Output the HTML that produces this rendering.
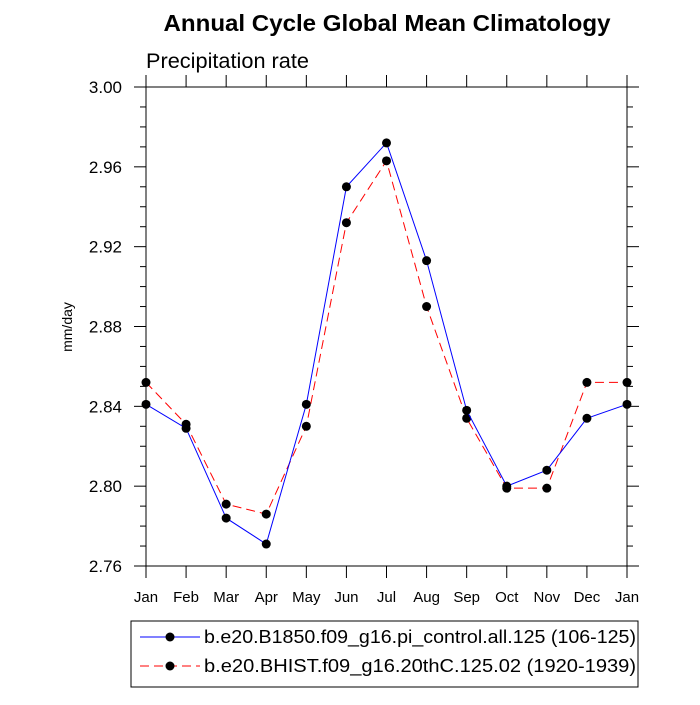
<!DOCTYPE html>
<html><head><meta charset="utf-8"><style>
body{margin:0;background:#fff;}
svg text{font-family:"Liberation Sans",Arial,sans-serif;}
</style></head><body>
<svg id="chart" width="700" height="700" viewBox="0 0 700 700" xmlns="http://www.w3.org/2000/svg">
<text x="387" y="31" text-anchor="middle" font-size="23" font-weight="bold" textLength="447" lengthAdjust="spacingAndGlyphs">Annual Cycle Global Mean Climatology</text>
<text x="146" y="68" font-size="21" textLength="163" lengthAdjust="spacingAndGlyphs">Precipitation rate</text>
<text transform="translate(72,327) rotate(-90)" text-anchor="middle" font-size="14">mm/day</text>
<g id="axes"></g>
<g id="series"></g>
<g>
<rect x="131" y="621" width="507" height="66" fill="none" stroke="#000" stroke-width="1"/>
<line x1="140" y1="637" x2="200" y2="637" stroke="#0000ff" stroke-width="1"/>
<circle cx="170" cy="637" r="4.5" fill="#000"/>
<text x="204" y="643" font-size="18" textLength="432" lengthAdjust="spacingAndGlyphs">b.e20.B1850.f09_g16.pi_control.all.125 (106-125)</text>
<line x1="140" y1="666" x2="200" y2="666" stroke="#ff0000" stroke-width="1" stroke-dasharray="9,5"/>
<circle cx="170" cy="666" r="4.5" fill="#000"/>
<text x="204" y="672" font-size="18" textLength="432" lengthAdjust="spacingAndGlyphs">b.e20.BHIST.f09_g16.20thC.125.02 (1920-1939)</text>
</g>
</svg>
<script>
const months = ["Jan","Feb","Mar","Apr","May","Jun","Jul","Aug","Sep","Oct","Nov","Dec","Jan"];
const controlValues = [2.841,2.829,2.784,2.771,2.841,2.950,2.972,2.913,2.838,2.800,2.808,2.834,2.841];
const histValues = [2.852,2.831,2.791,2.786,2.830,2.932,2.963,2.890,2.834,2.799,2.799,2.852,2.852];
const yTickLabels = ["2.76","2.80","2.84","2.88","2.92","2.96","3.00"];
const yMin = 2.76, yMax = 3.00;
const L=146,R=627,T=87,B=566;
const NS="http://www.w3.org/2000/svg";
function xs(i){return L+(R-L)*i/(months.length-1);}
function ys(v){return B-(B-T)*(v-yMin)/(yMax-yMin);}
function mk(tag,attrs,parent){const e=document.createElementNS(NS,tag);for(const k in attrs)e.setAttribute(k,attrs[k]);parent.appendChild(e);return e;}
const axes=document.getElementById('axes');
const frame=mk('rect',{x:L,y:T,width:R-L,height:B-T,fill:'none',stroke:'#000','stroke-width':1},axes);


months.forEach((m,i)=>{
  const x=xs(i);
  mk('line',{x1:x,y1:B,x2:x,y2:B+12,stroke:'#000'},axes);
  mk('line',{x1:x,y1:T,x2:x,y2:T-12,stroke:'#000'},axes);
  const t=mk('text',{x:x,y:B+36,'text-anchor':'middle','font-size':15},axes);
  t.textContent=m;
  
  
});
for(let k=0;k<=24;k++){
  const v=yMin+k*0.01, y=ys(v), major=k%4===0;
  const len=major?12:6;
  mk('line',{x1:L,y1:y,x2:L-len,y2:y,stroke:'#000'},axes);
  mk('line',{x1:R,y1:y,x2:R+len,y2:y,stroke:'#000'},axes);
}
yTickLabels.forEach(s=>{
  const t=mk('text',{x:L-24,y:ys(parseFloat(s))+6,'text-anchor':'end','font-size':17},axes);
  t.textContent=s;
  
  
});
const ser=document.getElementById('series');
function draw(vals,color,dash,name){
  const p=mk('polyline',{points:vals.map((v,i)=>xs(i)+','+ys(v)).join(' '),fill:'none',stroke:color,'stroke-width':1},ser);
  if(dash)p.setAttribute('stroke-dasharray',dash);
  
  
  vals.forEach((v,i)=>{
    const c=mk('circle',{cx:xs(i),cy:ys(v),r:4.5,fill:'#000'},ser);
    
    
  });
}
draw(histValues,'#ff0000','9,5','hist');
draw(controlValues,'#0000ff',null,'control');
</script>
</body></html>
